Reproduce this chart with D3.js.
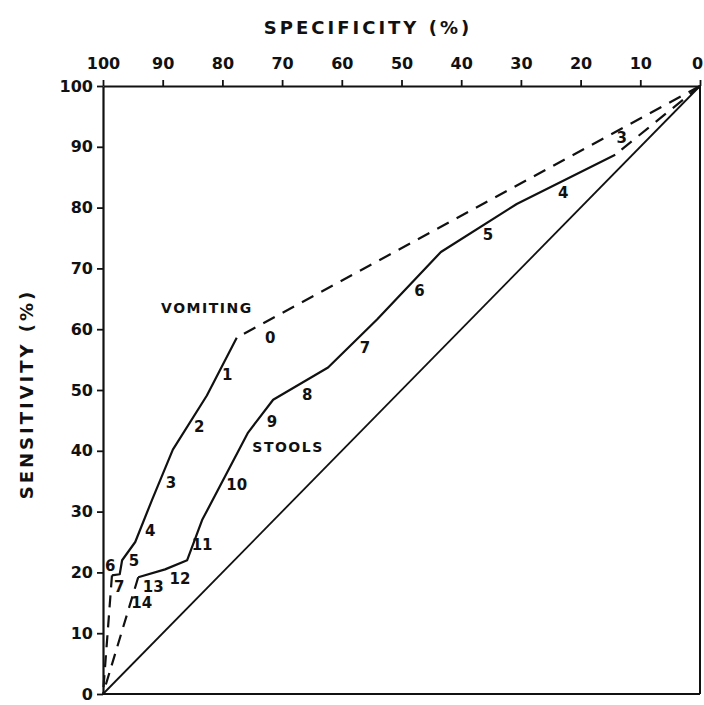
<!DOCTYPE html>
<html>
<head>
<meta charset="utf-8">
<script src="https://cdn.jsdelivr.net/npm/d3@7"></script>
<style>
  body { margin: 0; background: #fff; }
  text { font-family: "DejaVu Sans", sans-serif; font-weight: bold; fill: #111; }
</style>
</head>
<body>
<div id="chart"></div>
<script>
// specificity / sensitivity pairs (%)
var vomitSpec = [0, 77.6, 82.6, 88.3, 91.8, 94.6, 96.8, 97.2, 98.5, 100];
var vomitSens = [100, 58.6, 49.1, 40.2, 31.9, 25.0, 22.0, 19.7, 19.5, 0];
var stoolSpec = [0, 14.2, 30.7, 43.4, 54.1, 62.3, 71.5, 75.7, 83.4, 85.9, 89.6, 94.1, 100];
var stoolSens = [100, 88.7, 80.6, 72.7, 61.6, 53.7, 48.4, 43.0, 28.6, 22.0, 20.5, 19.2, 0];

// cut-off labels (number of episodes) and where they sit
var vomitLabels = ['0', '1', '2', '3', '4', '5', '6', '7'];
var vomitLabelSpec = [72.0, 79.2, 83.9, 88.6, 92.1, 94.8, 98.8, 97.3];
var vomitLabelSens = [58.6, 52.5, 44.0, 34.8, 26.9, 22.0, 21.2, 17.6];
var stoolLabels = ['3', '4', '5', '6', '7', '8', '9', '10', '11', '12', '13', '14'];
var stoolLabelSpec = [13.1, 22.9, 35.5, 47.0, 56.1, 65.8, 71.7, 77.6, 83.4, 87.1, 91.6, 93.5];
var stoolLabelSens = [91.5, 82.4, 75.6, 66.3, 57.0, 49.3, 44.8, 34.5, 24.5, 19.0, 17.6, 15.1];

var ticks = [0, 10, 20, 30, 40, 50, 60, 70, 80, 90, 100];

var width = 704, height = 705;

var x = d3.scaleLinear().domain([100, 0]).range([103, 700]);
var y = d3.scaleLinear().domain([0, 100]).range([694, 86]);

var svg = d3.select('#chart').append('svg')
    .attr('width', width)
    .attr('height', height);

// axes
var topAxis = svg.append('g')
    .attr('transform', 'translate(0,' + y(100) + ')')
    .call(d3.axisTop(x).tickValues(ticks).tickSize(6).tickSizeOuter(0).tickPadding(11));
var leftAxis = svg.append('g')
    .attr('transform', 'translate(' + x(100) + ',0)')
    .call(d3.axisLeft(y).tickValues(ticks).tickSize(6).tickSizeOuter(0).tickPadding(4));

[topAxis, leftAxis].forEach(function (g) {
    g.select('.domain').attr('stroke', '#111').attr('stroke-width', 2.2);
    g.selectAll('.tick line').attr('stroke', '#111').attr('stroke-width', 1.8);
    g.selectAll('.tick text')
        .style('font-size', '16px')
        .style('font-family', '"DejaVu Sans", sans-serif')
        .style('font-weight', 'bold')
        .attr('fill', '#111');
});
// keep the "0" at the right edge inside the page
topAxis.selectAll('.tick text')
    .filter(function (d) { return d === 0; })
    .attr('dx', '-3');

// bottom and right frame
svg.append('line')
    .attr('x1', x(100)).attr('x2', x(0))
    .attr('y1', y(0)).attr('y2', y(0))
    .attr('stroke', '#111').attr('stroke-width', 2);
svg.append('line')
    .attr('x1', x(0)).attr('x2', x(0))
    .attr('y1', y(100)).attr('y2', y(0))
    .attr('stroke', '#111').attr('stroke-width', 2);

// chance diagonal
svg.append('line')
    .attr('x1', x(100)).attr('y1', y(0))
    .attr('x2', x(0)).attr('y2', y(100))
    .attr('stroke', '#111').attr('stroke-width', 1.8);

var line = d3.line()
    .x(function (d) { return x(d[0]); })
    .y(function (d) { return y(d[1]); });

function drawCurve(spec, sens) {
    var pts = spec.map(function (s, i) { return [s, sens[i]]; });
    var n = pts.length;
    // first and last segments are extrapolated -> dashed
    svg.append('path').datum(pts.slice(0, 2))
        .attr('d', line).attr('fill', 'none')
        .attr('stroke', '#111').attr('stroke-width', 2.2)
        .attr('stroke-dasharray', '13,9');
    svg.append('path').datum(pts.slice(1, n - 1))
        .attr('d', line).attr('fill', 'none')
        .attr('stroke', '#111').attr('stroke-width', 2.2)
        .attr('stroke-linejoin', 'round');
    svg.append('path').datum(pts.slice(n - 2))
        .attr('d', line).attr('fill', 'none')
        .attr('stroke', '#111').attr('stroke-width', 2.2)
        .attr('stroke-dasharray', '12,8');
}
drawCurve(vomitSpec, vomitSens);
drawCurve(stoolSpec, stoolSens);

function drawLabels(labels, spec, sens) {
    svg.selectAll(null)
        .data(labels)
        .enter()
        .append('text')
        .attr('x', function (d, i) { return x(spec[i]); })
        .attr('y', function (d, i) { return y(sens[i]); })
        .attr('dy', '0.36em')
        .attr('text-anchor', 'middle')
        .style('font-size', '15px')
        .text(function (d) { return d; });
}
drawLabels(vomitLabels, vomitLabelSpec, vomitLabelSens);
drawLabels(stoolLabels, stoolLabelSpec, stoolLabelSens);

svg.append('text')
    .attr('x', x(82.6)).attr('y', y(63.5)).attr('dy', '0.36em')
    .attr('text-anchor', 'middle')
    .style('font-size', '14px').style('letter-spacing', '1.5px')
    .text('VOMITING');
svg.append('text')
    .attr('x', x(69.0)).attr('y', y(40.6)).attr('dy', '0.36em')
    .attr('text-anchor', 'middle')
    .style('font-size', '14px').style('letter-spacing', '1.5px')
    .text('STOOLS');

// axis titles
svg.append('text')
    .attr('x', 368).attr('y', 28).attr('dy', '0.36em')
    .attr('text-anchor', 'middle')
    .style('font-size', '18px').style('letter-spacing', '3px')
    .text('SPECIFICITY (%)');
svg.append('text')
    .attr('transform', 'translate(27,394) rotate(-90)')
    .attr('dy', '0.36em')
    .attr('text-anchor', 'middle')
    .style('font-size', '18px').style('letter-spacing', '3px')
    .text('SENSITIVITY (%)');
</script>
</body>
</html>
